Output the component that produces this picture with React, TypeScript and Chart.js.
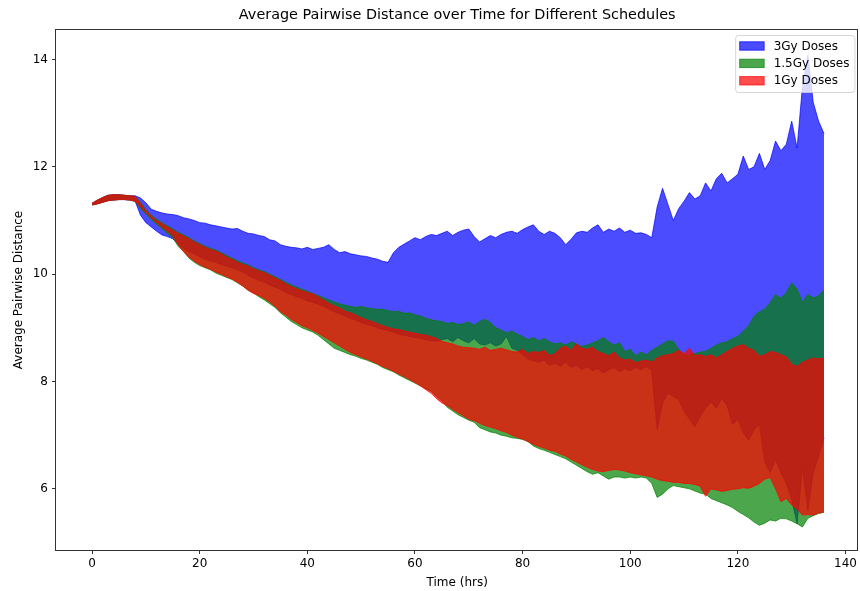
import React, { useEffect, useRef } from 'react';
import { Chart, registerables } from 'chart.js';

Chart.register(...registerables);

// Time axis (hours), one sample per hour
const hours = Array.from({ length: 137 }, (_, i) => i);

// 3Gy Doses band
const blueUpper = [
  11.32, 11.38, 11.43, 11.47, 11.48, 11.48, 11.47, 11.46, 11.46,
  11.42, 11.33, 11.21, 11.17, 11.14, 11.12, 11.11, 11.09, 11.05, 11.03, 11.0,
  10.96, 10.95, 10.92, 10.9, 10.88, 10.86, 10.84, 10.85, 10.8, 10.76,
  10.75, 10.72, 10.7, 10.64, 10.62, 10.55, 10.52, 10.5, 10.49, 10.47,
  10.5, 10.46, 10.48, 10.5, 10.55, 10.46, 10.4, 10.42, 10.38, 10.36,
  10.34, 10.33, 10.3, 10.28, 10.24, 10.22, 10.4, 10.5, 10.56, 10.62,
  10.68, 10.64, 10.7, 10.74, 10.72, 10.76, 10.8, 10.72, 10.78, 10.82,
  10.84, 10.7, 10.6, 10.66, 10.72, 10.68, 10.74, 10.78, 10.8, 10.76,
  10.83, 10.88, 10.92, 10.8, 10.74, 10.8, 10.76, 10.68, 10.55, 10.65,
  10.77, 10.8, 10.78, 10.86, 10.92, 10.78, 10.84, 10.8, 10.86, 10.78,
  10.82, 10.76, 10.77, 10.74,
  10.68, 11.25, 11.6, 11.3, 11.0, 11.22, 11.36, 11.52, 11.4, 11.46,
  11.7, 11.55, 11.78, 11.88, 11.7, 11.78, 11.86, 12.2, 11.95, 12.0,
  12.25, 11.95, 12.12, 12.48, 12.3, 12.42, 12.85, 12.35, 13.5, 14.08,
  13.2, 12.85, 12.62,
];
const blueLower = [
  11.29, 11.31, 11.34, 11.37, 11.38, 11.39, 11.39, 11.38, 11.36,
  11.1, 10.96, 10.88, 10.8, 10.73, 10.7, 10.66, 10.56, 10.48, 10.42, 10.38,
  10.32, 10.28, 10.24, 10.22, 10.18, 10.15, 10.12, 10.08, 10.04, 9.98,
  9.93, 9.88, 9.85, 9.8, 9.76, 9.72, 9.66, 9.62, 9.58, 9.55,
  9.5, 9.48, 9.44, 9.4, 9.35, 9.3, 9.26, 9.22, 9.18, 9.14,
  9.1, 9.06, 9.04, 9.0, 8.97, 8.95, 8.92, 8.88, 8.86, 8.84,
  8.82, 8.8, 8.78, 8.76, 8.75, 8.78, 8.8, 8.74, 8.82, 8.76,
  8.72, 8.8, 8.7, 8.68, 8.72, 8.66, 8.7, 8.84, 8.62, 8.58,
  8.5, 8.42, 8.38, 8.36, 8.4, 8.3, 8.34, 8.28, 8.36, 8.26,
  8.3, 8.22, 8.28, 8.2, 8.24, 8.16, 8.22, 8.26, 8.18, 8.24,
  8.2, 8.26, 8.22, 8.28, 8.2,
  7.1, 7.6, 7.78, 7.72, 7.66, 7.45, 7.3, 7.15, 7.35, 7.5,
  7.62, 7.5, 7.68, 7.55, 7.2, 7.3, 7.05, 6.9, 7.1, 7.2,
  6.5, 6.3, 6.55, 6.3, 6.1, 5.8, 5.35, 6.4, 5.6, 6.3,
  6.6, 6.95,
];

// 1.5Gy Doses band
const greenUpper = [
  11.32, 11.38, 11.43, 11.47, 11.48, 11.48, 11.47, 11.46, 11.45,
  11.34, 11.2, 11.1, 11.02, 10.96, 10.9, 10.84, 10.78, 10.73, 10.68, 10.62,
  10.57, 10.52, 10.48, 10.45, 10.4, 10.35, 10.3, 10.25, 10.21, 10.17,
  10.12, 10.08, 10.05, 10.0, 9.95, 9.9, 9.85, 9.8, 9.76, 9.72,
  9.68, 9.64, 9.6, 9.56, 9.52, 9.48, 9.45, 9.42, 9.4, 9.38,
  9.4, 9.37, 9.36, 9.34, 9.35, 9.32, 9.3, 9.31, 9.27, 9.28,
  9.24, 9.22, 9.18, 9.15, 9.13, 9.12, 9.08, 9.1, 9.06, 9.08,
  9.11, 9.05, 9.12, 9.16, 9.1, 9.0, 8.96, 8.91, 8.94, 8.88,
  8.84, 8.78, 8.82, 8.76, 8.8, 8.74, 8.7, 8.72, 8.68, 8.74,
  8.7, 8.65, 8.68, 8.72, 8.76, 8.82, 8.74, 8.68, 8.72, 8.56,
  8.6, 8.48, 8.55, 8.5, 8.58, 8.64, 8.7, 8.76, 8.75, 8.6,
  8.5, 8.5, 8.52, 8.55, 8.56, 8.62, 8.68, 8.72, 8.74, 8.8,
  8.84, 8.94, 9.04, 9.22, 9.3, 9.35, 9.47, 9.62, 9.55, 9.66,
  9.84, 9.72, 9.48, 9.62, 9.56, 9.6, 9.7,
];
const greenLower = [
  11.29, 11.31, 11.34, 11.37, 11.38, 11.39, 11.39, 11.38, 11.36,
  11.22, 11.12, 11.02, 10.93, 10.85, 10.76, 10.68, 10.52, 10.42, 10.3, 10.22,
  10.16, 10.12, 10.08, 10.02, 9.98, 9.94, 9.9, 9.84, 9.78, 9.7,
  9.65, 9.58, 9.52, 9.45, 9.38, 9.28, 9.2, 9.12, 9.06, 9.0,
  8.96, 8.92, 8.86, 8.78, 8.7, 8.62, 8.58, 8.54, 8.5, 8.47,
  8.43, 8.4, 8.36, 8.32, 8.26, 8.22, 8.18, 8.12, 8.07, 8.02,
  7.97, 7.92, 7.86, 7.82, 7.72, 7.64, 7.52, 7.45, 7.38, 7.33,
  7.28, 7.24, 7.14, 7.1, 7.06, 7.04, 7.0, 6.98, 6.95, 6.94,
  6.92, 6.88, 6.8, 6.75, 6.72, 6.68, 6.64, 6.6, 6.56, 6.5,
  6.44, 6.38, 6.32, 6.27,
  6.3, 6.24, 6.18, 6.22, 6.22, 6.2, 6.22, 6.2, 6.22, 6.2,
  6.1, 5.84, 5.9, 6.0, 6.06, 6.04, 6.02, 6.0, 5.96, 5.92,
  5.9, 5.82, 5.78, 5.74, 5.7, 5.65, 5.58, 5.52, 5.46, 5.38,
  5.32, 5.36, 5.42, 5.4, 5.45, 5.44, 5.4, 5.35, 5.29, 5.45,
  5.5, 5.54, 5.56,
];

// 1Gy Doses band
const redUpper = [
  11.32, 11.38, 11.43, 11.47, 11.48, 11.48, 11.47, 11.46, 11.45,
  11.32, 11.18, 11.08, 11.0, 10.94, 10.88, 10.82, 10.76, 10.71, 10.66, 10.6,
  10.55, 10.5, 10.46, 10.43, 10.38, 10.32, 10.28, 10.22, 10.18, 10.15,
  10.1, 10.06, 10.03, 9.98, 9.93, 9.88, 9.82, 9.77, 9.73, 9.69,
  9.66, 9.63, 9.58, 9.52, 9.46, 9.41, 9.37, 9.31, 9.28, 9.24,
  9.19, 9.15, 9.12, 9.08, 9.04, 9.01, 8.98, 8.97, 8.94, 8.92,
  8.9, 8.88, 8.86, 8.84, 8.8, 8.75, 8.72, 8.7, 8.66, 8.64,
  8.63, 8.62, 8.6, 8.64, 8.58, 8.6, 8.62, 8.59, 8.56, 8.55,
  8.6, 8.52, 8.56, 8.54, 8.58, 8.48, 8.52, 8.62, 8.66, 8.58,
  8.7, 8.62, 8.6, 8.64, 8.56, 8.52, 8.48, 8.55, 8.44, 8.4,
  8.42, 8.35, 8.38, 8.4, 8.36, 8.44, 8.48, 8.5, 8.52, 8.58,
  8.52, 8.62, 8.48, 8.5, 8.46, 8.5, 8.44, 8.5, 8.56, 8.62,
  8.66, 8.69, 8.62, 8.58, 8.47, 8.5, 8.56, 8.54, 8.5, 8.46,
  8.32, 8.28, 8.36, 8.4, 8.44, 8.42, 8.44,
];
const redLower = [
  11.29, 11.31, 11.34, 11.37, 11.38, 11.39, 11.39, 11.38, 11.36,
  11.25, 11.15, 11.05, 10.96, 10.88, 10.8, 10.72, 10.55, 10.42, 10.32, 10.24,
  10.18, 10.13, 10.09, 10.04, 10.0, 9.95, 9.91, 9.85, 9.78, 9.7,
  9.64, 9.6, 9.55, 9.48, 9.4, 9.3, 9.24, 9.16, 9.1, 9.04,
  9.0, 8.95, 8.9, 8.84, 8.78, 8.72, 8.66, 8.6, 8.54, 8.5,
  8.46, 8.42, 8.38, 8.33, 8.28, 8.24, 8.19, 8.14, 8.09, 8.04,
  7.98, 7.92, 7.85, 7.78, 7.68, 7.6, 7.55, 7.48, 7.42, 7.36,
  7.3, 7.27, 7.22, 7.18, 7.15, 7.12, 7.08, 7.05, 7.0, 6.96,
  6.93, 6.88, 6.83, 6.79, 6.76, 6.72, 6.7, 6.65, 6.61, 6.55,
  6.5, 6.45, 6.4, 6.36,
  6.33, 6.32, 6.34, 6.36, 6.35, 6.33, 6.3, 6.28, 6.26, 6.24,
  6.22, 6.18, 6.15, 6.14, 6.12, 6.12, 6.1, 6.1, 6.08, 6.05,
  5.86, 6.0, 5.98, 5.95, 5.97, 5.99, 6.0, 6.02, 6.01, 6.05,
  6.1, 6.18, 6.21, 6.0, 5.76, 5.82, 5.7, 5.62, 5.51, 5.52,
  5.51, 5.55, 5.57,
];

const seriesLabels = ['3Gy Doses', '1.5Gy Doses', '1Gy Doses'];
const seriesColors = ['rgba(0,0,255,0.7)', 'rgba(0,128,0,0.7)', 'rgba(255,0,0,0.7)'];
const xTicks = [0, 20, 40, 60, 80, 100, 120, 140];
const yTicks = [6, 8, 10, 12, 14];

const FONT = "'DejaVu Sans', sans-serif";

const framePlugin = {
  id: 'frameAndLegend',
  afterDraw(chart: any) {
    const { ctx, chartArea: a } = chart;
    ctx.save();
    // spines
    ctx.strokeStyle = '#333';
    ctx.lineWidth = 1;
    const l = Math.round(a.left) - 0.5;
    const t = Math.round(a.top) - 0.5;
    const r = Math.round(a.right) - 0.5;
    const b = Math.round(a.bottom) + 0.5;
    ctx.strokeRect(l, t, r - l, b - t);

    // legend
    ctx.font = `12px ${FONT}`;
    let maxW = 0;
    seriesLabels.forEach((s) => {
      maxW = Math.max(maxW, ctx.measureText(s).width);
    });
    const w = 38.5 + maxW + 5;
    const h = 57;
    const x0 = a.right - 4 - w;
    const y0 = a.top + 5;
    ctx.beginPath();
    if ((ctx as any).roundRect) (ctx as any).roundRect(x0 + 0.5, y0 + 0.5, w, h, 3);
    else ctx.rect(x0 + 0.5, y0 + 0.5, w, h);
    ctx.fillStyle = 'rgba(255,255,255,0.8)';
    ctx.fill();
    ctx.strokeStyle = 'rgba(204,204,204,0.8)';
    ctx.lineWidth = 1;
    ctx.stroke();
    seriesLabels.forEach((s, i) => {
      const cy = y0 + 11 + i * 17.4;
      ctx.fillStyle = seriesColors[i];
      ctx.fillRect(x0 + 4.5, cy - 4.2, 24.5, 8.4);
      ctx.strokeStyle = seriesColors[i];
      ctx.strokeRect(x0 + 4.5, cy - 4.2, 24.5, 8.4);
      ctx.fillStyle = '#000';
      ctx.textBaseline = 'middle';
      ctx.textAlign = 'left';
      ctx.fillText(s, x0 + 38.5, cy + 0.5);
    });
    ctx.restore();
  },
};

export default function App() {
  const ref = useRef<HTMLCanvasElement>(null);

  useEffect(() => {
    if (!ref.current) return;
    const pts = (arr: number[]) => arr.map((y, i) => ({ x: hours[i], y }));
    const bands: [number[], number[]][] = [
      [blueLower, blueUpper],
      [greenLower, greenUpper],
      [redLower, redUpper],
    ];
    const datasets: any[] = [];
    bands.forEach(([lo, hi], k) => {
      datasets.push({
        label: seriesLabels[k] + ' (min)',
        data: pts(lo),
        borderColor: seriesColors[k],
        backgroundColor: seriesColors[k],
        borderWidth: 1,
        pointRadius: 0,
        tension: 0,
        fill: false,
        order: 3 - k,
      });
      datasets.push({
        label: seriesLabels[k],
        data: pts(hi),
        borderColor: seriesColors[k],
        backgroundColor: seriesColors[k],
        borderWidth: 1,
        pointRadius: 0,
        tension: 0,
        fill: '-1',
        order: 3 - k,
      });
    });

    const tickFont = { family: FONT, size: 12 };
    const chart = new Chart(ref.current, {
      type: 'line',
      data: { datasets },
      options: {
        animation: false,
        responsive: false,
        devicePixelRatio: 1,
        parsing: false as any,
        normalized: true,
        layout: { padding: { top: 0, right: 1, bottom: 0, left: 0 } },
        plugins: {
          legend: { display: false },
          tooltip: { enabled: false },
          title: {
            display: true,
            text: 'Average Pairwise Distance over Time for Different Schedules',
            color: '#000',
            font: { family: FONT, size: 14.4, weight: 'normal' },
            padding: { top: 6.5, bottom: 6.2 },
            fullSize: false,
          },
        },
        scales: {
          x: {
            type: 'linear',
            min: -6.7,
            max: 142.4,
            afterBuildTicks: (s: any) => {
              s.ticks = xTicks.map((v) => ({ value: v }));
            },
            afterFit: (s: any) => {
              s.height = 41;
            },
            grid: {
              display: true,
              drawOnChartArea: false,
              drawTicks: true,
              tickLength: 4,
              tickColor: '#333',
              tickWidth: 1,
            },
            border: { display: false },
            ticks: { color: '#000', font: tickFont, padding: 3, maxRotation: 0, autoSkip: false },
            title: {
              display: true,
              text: 'Time (hrs)',
              color: '#000',
              font: tickFont,
              padding: { top: 0, bottom: 1 },
            },
          },
          y: {
            type: 'linear',
            min: 4.86,
            max: 14.55,
            afterBuildTicks: (s: any) => {
              s.ticks = yTicks.map((v) => ({ value: v }));
            },
            afterFit: (s: any) => {
              s.width = 56;
            },
            grid: {
              display: true,
              drawOnChartArea: false,
              drawTicks: true,
              tickLength: 4,
              tickColor: '#333',
              tickWidth: 1,
            },
            border: { display: false },
            ticks: { color: '#000', font: tickFont, padding: 4 },
            title: {
              display: true,
              text: 'Average Pairwise Distance',
              color: '#000',
              font: tickFont,
              padding: { top: 12, bottom: 0 },
            },
          },
        },
      } as any,
      plugins: [framePlugin],
    });
    return () => chart.destroy();
  }, []);

  return (
    <div style={{ position: 'absolute', left: 0, top: 0, width: 860, height: 591, background: '#fff' }}>
      <canvas ref={ref} width={860} height={591} style={{ display: 'block' }} />
    </div>
  );
}
